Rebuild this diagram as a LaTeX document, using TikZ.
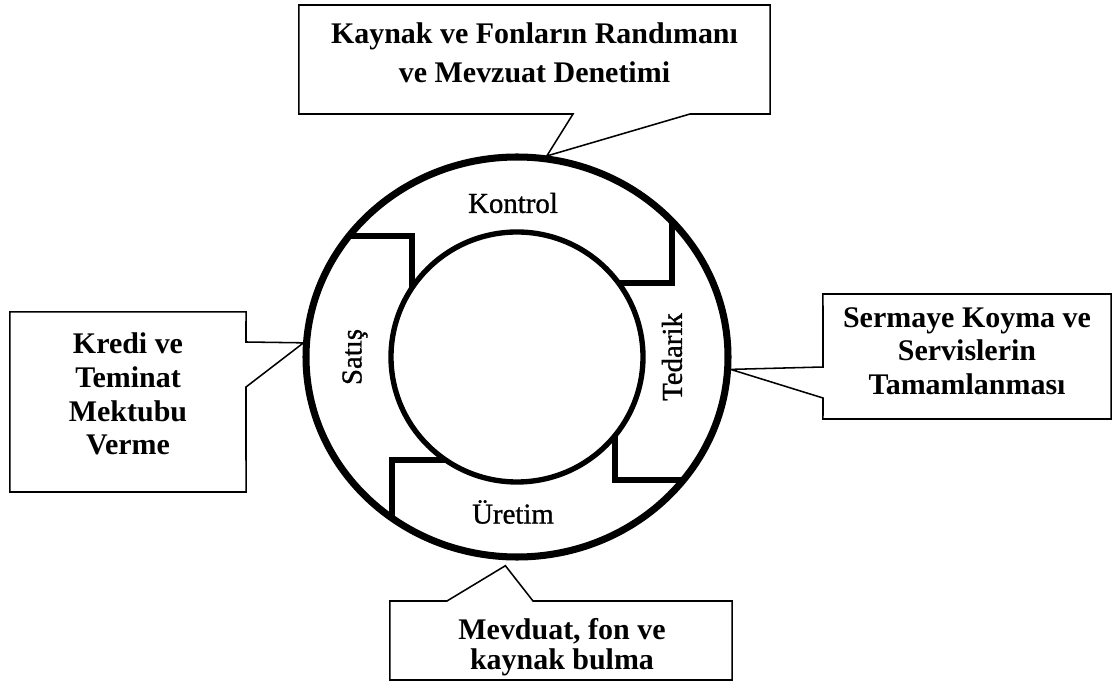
\documentclass[tikz,border=0pt]{standalone}
\usepackage{fontspec}
\setmainfont{Liberation Serif}
\usetikzlibrary{positioning}

\begin{document}
\begin{tikzpicture}[
    x=0.025cm, y=-0.025cm,
    box/.style={rectangle, inner sep=0pt, outer sep=0pt},
    callout/.style={draw, line width=1.1pt, fill=white, line join=miter},
    boxtext/.style={align=center, inner sep=0pt, font=\fontsize{21.3}{24}\selectfont\bfseries},
    phase/.style={inner sep=0pt, font=\fontsize{20.5}{24}\selectfont\addfontfeature{FakeBold=1}},
    divider/.style={line width=3.6pt, line join=miter}
]
    \useasboundingbox (0,0) rectangle (1113,694);
    \coordinate (ctr) at (517,357);

    % Dividers between the phases, clipped to the ring
    \begin{scope}[even odd rule]
        \clip (ctr) ellipse [x radius=211, y radius=200]
              (ctr) ellipse [x radius=126, y radius=125];
        \draw[divider] (330,236) -- (412,236) -- (412,320);
        \draw[divider] (672,205) -- (672,283) -- (600,283);
        \draw[divider] (615,420) -- (615,480) -- (700,480);
        \draw[divider] (460,460) -- (392,460) -- (392,530);
    \end{scope}

    % Ring
    \draw[line width=5pt] (ctr) ellipse [x radius=211, y radius=200];
    \draw[line width=3.8pt] (ctr) ellipse [x radius=126, y radius=125];

    % Phases
    \node[phase] (kontrol) at (513,203) {Kontrol};
    \node[phase, rotate=90] (satis) at (355,357) {Satış};
    \node[phase, rotate=90] (tedarik) at (672,357) {Tedarik};
    \node[phase] (uretim) at (513,512) {Üretim};

    % Pointer tips on the ring
    \path (ctr) ++(-82:214 and 203) coordinate (kpin);
    \path (ctr) ++(184:214 and 203) coordinate (spin);
    \path (ctr) ++(3.5:214 and 203) coordinate (tpin);
    \path (ctr) ++(93:222 and 209) coordinate (upin);

    % Callout: Kontrol
    \node[box, minimum width=11.775cm, minimum height=2.725cm] (kbox) at (534.5,59.5) {};
    \draw[callout] (kbox.north west) -- (kbox.north east) -- (kbox.south east)
        -- (690,114) -- (kpin) -- (573,114) -- (kbox.south west) -- cycle;
    \node[boxtext, font=\fontsize{21.3}{27.6}\selectfont\bfseries] (ktext) at (534.5,52.5)
        {Kaynak ve Fonların Randımanı\\ve Mevzuat Denetimi};

    % Callout: Satış
    \node[box, minimum width=5.9cm, minimum height=4.5cm] (sbox) at (128,402) {};
    \draw[callout] (sbox.north west) -- (sbox.north east) -- (246,342) -- (spin)
        -- (246,387) -- (sbox.south east) -- (sbox.south west) -- cycle;
    \node[boxtext] (stext) at (128,394) {Kredi ve\\Teminat\\Mektubu\\Verme};

    % Callout: Tedarik
    \node[box, minimum width=7.2cm, minimum height=3.125cm] (tbox) at (967,356.5) {};
    \draw[callout] (tbox.north west) -- (tbox.north east) -- (tbox.south east)
        -- (tbox.south west) -- (823,398) -- (tpin) -- (823,367) -- cycle;
    \node[boxtext] (ttext) at (967,351) {Sermaye Koyma ve\\Servislerin\\Tamamlanması};

    % Callout: Üretim
    \node[box, minimum width=8.55cm, minimum height=1.975cm] (ubox) at (561,640.5) {};
    \draw[callout] (ubox.north west) -- (447,601) -- (upin) -- (533,601)
        -- (ubox.north east) -- (ubox.south east) -- (ubox.south west) -- cycle;
    \node[boxtext, font=\fontsize{21.3}{21.3}\selectfont\bfseries] (utext) at (562,647)
        {Mevduat, fon ve\\kaynak bulma};

\end{tikzpicture}
\end{document}
